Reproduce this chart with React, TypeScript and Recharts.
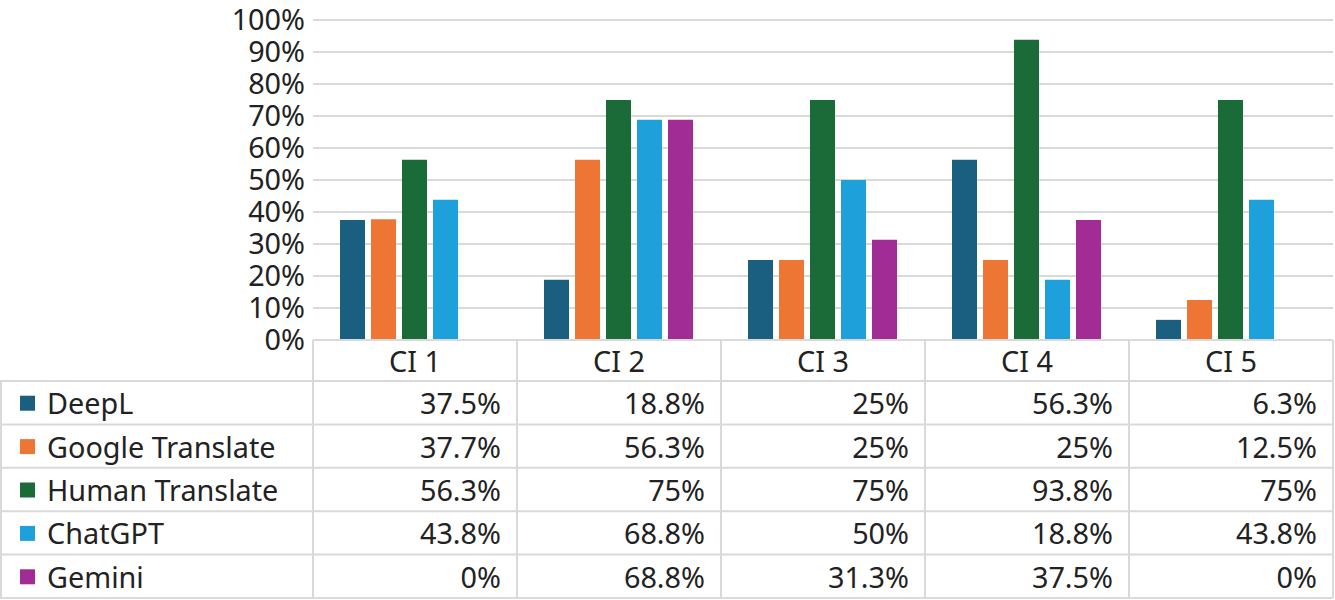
import { Bar, BarChart, CartesianGrid, XAxis, YAxis } from "recharts";

const categories = ["CI 1", "CI 2", "CI 3", "CI 4", "CI 5"];
const deepL = [37.5, 18.8, 25, 56.3, 6.3];
const googleTranslate = [37.7, 56.3, 25, 25, 12.5];
const humanTranslate = [56.3, 75, 75, 93.8, 75];
const chatGPT = [43.8, 68.8, 50, 18.8, 43.8];
const gemini = [0, 68.8, 31.3, 37.5, 0];
const yTicks = [0, 10, 20, 30, 40, 50, 60, 70, 80, 90, 100];

const series = [
	{ key: "deepL", name: "DeepL", values: deepL, color: "#1a5f80" },
	{ key: "google", name: "Google Translate", values: googleTranslate, color: "#ee7634" },
	{ key: "human", name: "Human Translate", values: humanTranslate, color: "#1b6b39" },
	{ key: "chatgpt", name: "ChatGPT", values: chatGPT, color: "#1ea1db" },
	{ key: "gemini", name: "Gemini", values: gemini, color: "#a22c95" },
];

const data = categories.map((c, i) => {
	const row: Record<string, any> = { name: c };
	series.forEach((s) => (row[s.key] = s.values[i]));
	return row;
});

const WIDTH = 1335;
const HEIGHT = 600;
const LEFT = 313;
const RIGHT = 2;
const COL_W = (WIDTH - LEFT - RIGHT) / categories.length;
const HEADER_H = 41;
const ROW_H = 43.4;
const GRID = "#d9d9d9";
const TEXT = "#222222";
const FONT = "'Noto Sans', sans-serif";
const FS = 28.8;

const fmt = (v: number) => `${v}%`;

// one table column per category, placed by the x axis scale
const TableColumn = (props: any) => {
	const { x, y, index } = props;
	const left = x - COL_W / 2;
	const right = x + COL_W / 2;
	const rowTop = (i: number) => y + HEADER_H + i * ROW_H;
	const bottom = rowTop(series.length);
	return (
		<g fontFamily={FONT} fontSize={FS} fill={TEXT}>
			<line x1={left} x2={right} y1={y} y2={y} stroke={GRID} strokeWidth={2} />
			<line x1={left} x2={left} y1={y} y2={bottom} stroke={GRID} strokeWidth={2} />
			<line x1={right} x2={right} y1={y} y2={bottom} stroke={GRID} strokeWidth={2} />
			<text x={x} y={y + HEADER_H / 2} textAnchor="middle" dominantBaseline="central">
				{categories[index]}
			</text>
			{series.map((s, i) => (
				<g key={s.key}>
					<line x1={left} x2={right} y1={rowTop(i)} y2={rowTop(i)} stroke={GRID} strokeWidth={2} />
					<text
						x={right - 16}
						y={rowTop(i) + ROW_H / 2}
						textAnchor="end"
						dominantBaseline="central"
					>
						{fmt(s.values[index])}
					</text>
				</g>
			))}
			<line x1={left} x2={right} y1={bottom} y2={bottom} stroke={GRID} strokeWidth={2} />
			{index === 0 && (
				<g>
					<line x1={1} x2={1} y1={rowTop(0)} y2={bottom} stroke={GRID} strokeWidth={2} />
					{series.map((s, i) => (
						<g key={s.key}>
							<line x1={0} x2={left} y1={rowTop(i)} y2={rowTop(i)} stroke={GRID} strokeWidth={2} />
							<rect x={20} y={rowTop(i) + ROW_H / 2 - 7} width={15} height={15} fill={s.color} />
							<text x={47} y={rowTop(i) + ROW_H / 2} dominantBaseline="central">
								{s.name}
							</text>
						</g>
					))}
					<line x1={0} x2={left} y1={bottom} y2={bottom} stroke={GRID} strokeWidth={2} />
				</g>
			)}
		</g>
	);
};

export default function App() {
	return (
		<div style={{ position: "absolute", left: 0, top: 0, background: "#fff" }}>
			<BarChart
				width={WIDTH}
				height={HEIGHT}
				data={data}
				margin={{ top: 20, right: RIGHT, left: 0, bottom: 0 }}
				barCategoryGap={27}
				barGap={6}
			>
				<CartesianGrid vertical={false} stroke={GRID} strokeWidth={2} />
				<YAxis
					width={LEFT}
					domain={[0, 100]}
					ticks={yTicks}
					tickFormatter={fmt}
					axisLine={false}
					tickLine={false}
					tick={{ fill: TEXT, fontSize: FS, fontFamily: FONT }}
					interval={0}
				/>
				<XAxis
					dataKey="name"
					height={260}
					axisLine={false}
					tickLine={false}
					tickSize={0}
					tickMargin={0}
					interval={0}
					tick={<TableColumn />}
				/>
				{series.map((s) => (
					<Bar
						key={s.key}
						dataKey={s.key}
						name={s.name}
						fill={s.color}
						isAnimationActive={false}
					/>
				))}
			</BarChart>
		</div>
	);
}
